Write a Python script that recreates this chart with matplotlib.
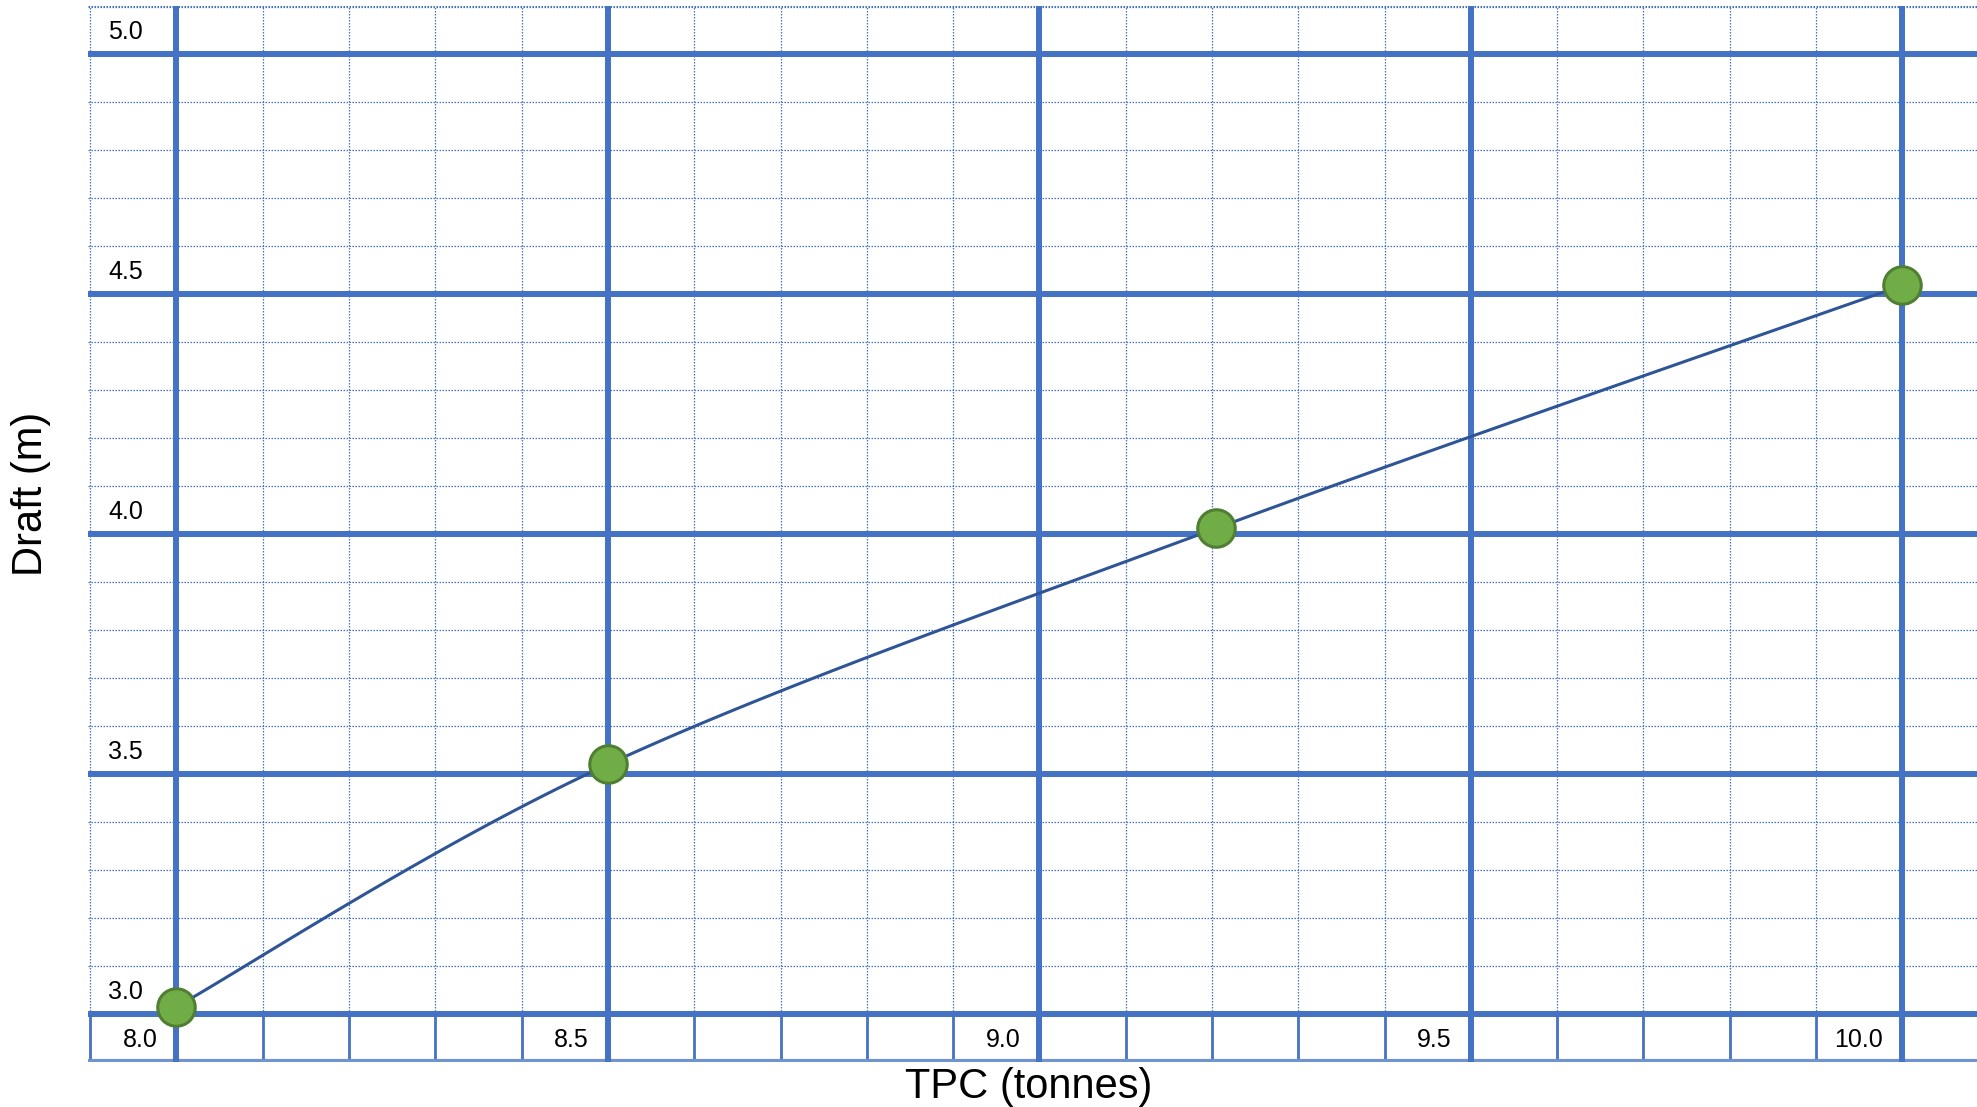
import numpy as np
import matplotlib.pyplot as plt

plt.rcParams['font.family'] = ['Liberation Sans', 'DejaVu Sans']

# data
tpc = [8.0, 8.5, 9.205, 10.0]
draft = [3.015, 3.52, 4.012, 4.518]

x_ticks = [8.0, 8.5, 9.0, 9.5, 10.0]
x_tick_labels = ["8.0", "8.5", "9.0", "9.5", "10.0"]
y_ticks = [3.0, 3.5, 4.0, 4.5, 5.0]
y_tick_labels = ["3.0", "3.5", "4.0", "4.5", "5.0"]

blue = "#4472C4"
xmin, xmax = 7.8975, 10.0865
ymin, ymax = 2.9, 5.1


def smooth(xs, ys, n=40):
    """Catmull-Rom curve through the points (like a smoothed line)."""
    p = np.column_stack([xs, ys])
    p = np.vstack([p[0], p, p[-1]])
    out = []
    t = np.linspace(0, 1, n)[:, None]
    for i in range(1, len(p) - 2):
        p0, p1, p2, p3 = p[i - 1], p[i], p[i + 1], p[i + 2]
        seg = 0.5 * ((2 * p1) + (-p0 + p2) * t + (2 * p0 - 5 * p1 + 4 * p2 - p3) * t ** 2
                     + (-p0 + 3 * p1 - 3 * p2 + p3) * t ** 3)
        out.append(seg)
    out = np.vstack(out)
    return out[:, 0], out[:, 1]


fig = plt.figure(figsize=(19.77, 11.07), dpi=100)
ax = fig.add_axes([88 / 1977, 45 / 1107, 1889 / 1977, 1056 / 1107])
ax.set_xlim(xmin, xmax)
ax.set_ylim(ymin, ymax)
ax.set_axis_off()

# minor dotted grid in the plot area
minor_x = np.round(np.arange(8.0, 10.1, 0.1), 2)
minor_y = np.round(np.arange(3.0, 5.11, 0.1), 2)
dots = (0, (1.2, 1.2))
for v in minor_x:
    ax.plot([v, v], [3.0, ymax], color=blue, lw=0.9, ls=dots, zorder=1)
ax.plot([xmin + 0.002, xmin + 0.002], [3.0, ymax], color=blue, lw=0.9, ls=dots, zorder=1)
for v in minor_y:
    ax.plot([xmin, xmax], [v, v], color=blue, lw=0.9, ls=dots, zorder=1)
ax.plot([xmin, xmax], [ymax - 0.002, ymax - 0.002], color=blue, lw=0.9, ls=dots, zorder=1)

# label strip along the bottom: solid cell borders
for v in minor_x:
    ax.plot([v, v], [ymin, 3.0], color=blue, lw=2.0, zorder=2)
ax.plot([xmin + 0.002, xmin + 0.002], [ymin, 3.0], color=blue, lw=2.0, zorder=2)
ax.plot([xmin, xmax], [ymin + 0.003, ymin + 0.003], color="#6f93d3", lw=3.0, zorder=2)

# major grid
for v in x_ticks:
    ax.plot([v, v], [ymin, ymax], color=blue, lw=4.3, zorder=3, solid_capstyle='butt')
for v in y_ticks:
    ax.plot([xmin, xmax], [v, v], color=blue, lw=4.3, zorder=3, solid_capstyle='butt')

# tick labels inside the grid
for v, lab in zip(y_ticks, y_tick_labels):
    ax.text(7.921, v + 0.046, lab, ha='left', va='center', fontsize=18, zorder=4)
for v, lab in zip(x_ticks, x_tick_labels):
    ax.text(v - 0.022, 2.945, lab, ha='right', va='center', fontsize=18, zorder=4)

# curve and points
sx, sy = smooth(tpc, draft)
ax.plot(sx, sy, color="#2F5597", lw=2.2, zorder=5)
ax.plot(tpc, draft, ls='none', marker='o', markersize=27, markerfacecolor="#70AD47",
        markeredgecolor="#507E32", markeredgewidth=2.2, zorder=6, clip_on=False)

fig.text(1029 / 1977, 1 - 1087 / 1107, "TPC (tonnes)", ha='center', va='center', fontsize=30)
fig.text(31 / 1977, 1 - 494 / 1107, "Draft (m)", ha='center', va='center', fontsize=30,
         rotation=90)

fig.savefig("out.png", dpi=100)
